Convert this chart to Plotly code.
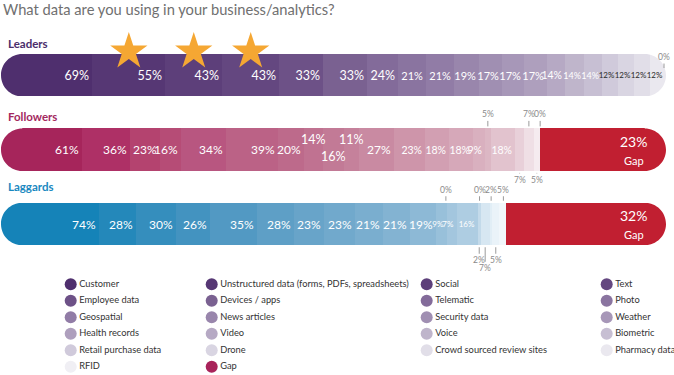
import numpy as np
import plotly.graph_objects as go

# ------------------------------------------------------------------ data
GROUPS = ["Leaders", "Followers", "Laggards"]
CATEGORIES = [
    "Customer", "Unstructured data (forms, PDFs, spreadsheets)", "Social", "Text",
    "Employee data", "Devices / apps", "Telematic", "Photo",
    "Geospatial", "News articles", "Security data", "Weather",
    "Health records", "Video", "Voice", "Biometric",
    "Retail purchase data", "Drone", "Crowd sourced review sites", "Pharmacy data",
    "RFID",
]
LEADERS = [69, 55, 43, 43, 33, 33, 24, 21, 21, 19, 17, 17, 17, 14, 14, 14, 12, 12, 12, 12, 0]
FOLLOWERS = [61, 36, 23, 16, 34, 39, 20, 14, 16, 11, 27, 23, 18, 18, 9, 5, 18, 7, 7, 5, 0]
LAGGARDS = [74, 28, 30, 26, 35, 28, 23, 23, 21, 21, 19, 9, 7, 16, 0, 2, 0, 7, 2, 5, 5]
GAP_NAME = "Gap"
GAP_PCT = [None, 23, 32]
STARRED = ["Unstructured data (forms, PDFs, spreadsheets)", "Social", "Text"]
TITLE = "What data are you using in your business/analytics?"

VALUES = {"Leaders": LEADERS, "Followers": FOLLOWERS, "Laggards": LAGGARDS}

# ------------------------------------------------------------------ style
W, H = 674, 375
FONT = "Lato"
COLORS = {
    "Leaders": ["#4f2f6e", "#563774", "#5d3f7a", "#644780", "#6d5187", "#7a6191", "#836b9a",
                "#8a74a0", "#917ca6", "#9986ac", "#a08fb2", "#a797b8", "#ae9fbd", "#b6a9c4",
                "#bfb5cb", "#c7bfd3", "#d0cadb", "#d9d5e2", "#e1dee8", "#eae8ef", "#f0eff4"],
    "Followers": ["#a6255b", "#ae3066", "#b4436f", "#b64c76", "#b85680", "#bb6286", "#bd6a8b",
                  "#c07291", "#c27a96", "#c5819b", "#c98aa2", "#ce95aa", "#d29fb2", "#d6a8b9",
                  "#d9b0bf", "#dcb7c4", "#e2c3ce", "#e8d0d9", "#efdfe5", "#f5ebef", "#f8f2f5"],
    "Laggards": ["#1583b8", "#2488ba", "#358ebd", "#4393c0", "#5299c3", "#5e9fc6", "#68a4c9",
                 "#71a9cc", "#7aaecf", "#83b3d2", "#8db9d6", "#98c0da", "#a3c6de", "#aecde2",
                 "#b8d3e6", "#c3daea", "#cde1ee", "#d7e7f2", "#e1eef6", "#eaf3f9", "#f1f7fb"],
}
GAP_COLOR = "#c11f31"
GAP_LEGEND_COLOR = "#a8235a"
STAR_COLOR = "#F5A733"
GROUP_TITLE_COLORS = ["#4b2e6b", "#a3285e", "#1a88c0"]
GROUP_TITLE_Y_PX = [44, 116, 187]
FONT_SIZES = {
    "Leaders": [12.5] * 7 + [11] * 6 + [10.5] + [9] * 2 + [8] * 4 + [9],
    "Followers": [12] * 11 + [10.5] * 6 + [9] * 4,
    "Laggards": [12] * 11 + [8] * 3 + [9] * 7,
}
DARK_TEXT = {("Leaders", 16), ("Leaders", 17), ("Leaders", 18), ("Leaders", 19)}
# labels that are not drawn inside their bar segment (offsets in pixels)
SPECIAL = {
    "Leaders": {20: dict(kind="above", ay=-11, dy=-14, dx=-2, standoff=0)},
    "Followers": {
        7: dict(kind="inner", dy=10), 8: dict(kind="inner", dy=-7), 9: dict(kind="inner", dy=10),
        15: dict(kind="above", ay=-14), 17: dict(kind="below", ay=9), 18: dict(kind="above", ay=-14),
        19: dict(kind="below", ay=9), 20: dict(kind="above", ay=-14),
    },
    "Laggards": {
        14: dict(kind="above", ay=-13, dx=-32), 15: dict(kind="below", ay=15),
        16: dict(kind="above", ay=-13, dx=-1), 17: dict(kind="below", ay=23),
        18: dict(kind="above", ay=-13), 19: dict(kind="below", ay=15),
        20: dict(kind="above", ay=-13, dx=1),
    },
}
SMALL_TEXT = "#8a8a8a"
TICK_COLOR = "#9a9a9a"

ROW_TOP_PX, ROW_BOTTOM_PX = 75.3, 224.0
BAR_PX = 42.5
PLOT_X0_PX, PLOT_X1_PX = 1, 666
STAR_LIFT_PX = 23.7
STAR_SIZE = 28

LEG_COL_X = [70.7, 211.7, 426.7, 606.7]
LEG_ROW0_Y, LEG_ROW_STEP = 284.3, 16.5
LEG_TOP_PX = 272

# ------------------------------------------------------------------ geometry
n = len(GROUPS)
rows = [n - 1 - i for i in range(n)]
row_px = (ROW_BOTTOM_PX - ROW_TOP_PX) / (n - 1)
top_px = ROW_TOP_PX - row_px / 2
bot_px = ROW_BOTTOM_PX + row_px / 2
ydom = [1 - bot_px / H, 1 - top_px / H]
xdom = [PLOT_X0_PX / W, PLOT_X1_PX / W]
bar_w = BAR_PX / row_px
half_px = BAR_PX / 2

totals = [sum(VALUES[g]) for g in GROUPS]
full = max(totals)
gaps = [full - t for t in totals]
px_per_unit = (PLOT_X1_PX - PLOT_X0_PX) / full

fig = go.Figure()

for i, cat in enumerate(CATEGORIES):
    texts, sizes, tcols = [], [], []
    for g in GROUPS:
        texts.append("" if i in SPECIAL[g] else f"{VALUES[g][i]}%")
        sizes.append(FONT_SIZES[g][i])
        tcols.append("#2a2a2a" if (g, i) in DARK_TEXT else "white")
    fig.add_trace(go.Bar(
        y=rows, x=[VALUES[g][i] for g in GROUPS], orientation="h", name=cat, width=bar_w,
        marker=dict(color=[COLORS[g][i] for g in GROUPS], line=dict(width=0)),
        text=texts, textposition="inside", insidetextanchor="end", textangle=0,
        constraintext="none", textfont=dict(family=FONT, size=sizes, color=tcols),
        showlegend=False, hovertemplate="%{x}%<extra>" + cat + "</extra>",
    ))

fig.add_trace(go.Bar(
    y=rows, x=gaps, orientation="h", name=GAP_NAME, width=bar_w,
    marker=dict(color=GAP_COLOR, line=dict(width=0)), showlegend=False,
    hoverinfo="skip",
))

# stars over selected leader segments
lv = np.array(LEADERS, dtype=float)
lstart = np.cumsum(lv) - lv
star_x = [lstart[CATEGORIES.index(c)] + lv[CATEGORIES.index(c)] / 2 for c in STARRED]
fig.add_trace(go.Scatter(
    x=star_x, y=[rows[0] + STAR_LIFT_PX / row_px] * len(star_x), mode="markers",
    marker=dict(symbol="star", size=STAR_SIZE, color=STAR_COLOR, line=dict(width=0)),
    cliponaxis=False, showlegend=False, hoverinfo="skip",
))

# legend drawn as marker + text grid
leg_names = CATEGORIES + [GAP_NAME]
leg_cols = COLORS["Leaders"] + [GAP_LEGEND_COLOR]
ncol = len(LEG_COL_X)
fig.add_trace(go.Scatter(
    x=[LEG_COL_X[j % ncol] for j in range(len(leg_names))],
    y=[LEG_ROW0_Y + LEG_ROW_STEP * (j // ncol) for j in range(len(leg_names))],
    mode="markers+text", text=leg_names, textposition="middle right",
    textfont=dict(family=FONT, size=9.3, color="#333333"),
    marker=dict(symbol="circle", size=12, color=leg_cols, line=dict(width=0)),
    xaxis="x2", yaxis="y2", cliponaxis=False, showlegend=False, hoverinfo="skip",
))

annotations = []
for gi, g in enumerate(GROUPS):
    annotations.append(dict(
        x=0, xref="paper", xanchor="left", xshift=6, y=1 - GROUP_TITLE_Y_PX[gi] / H,
        yref="paper", yanchor="middle", text=f"<b>{g}</b>", showarrow=False,
        font=dict(family=FONT, size=11.5, color=GROUP_TITLE_COLORS[gi]),
    ))
    vals = np.array(VALUES[g], dtype=float)
    starts = np.cumsum(vals) - vals
    for i, spec in SPECIAL[g].items():
        xc = starts[i] + vals[i] / 2 + spec.get("dx", 0) / px_per_unit
        txt = f"{VALUES[g][i]}%"
        if spec["kind"] == "inner":
            annotations.append(dict(
                x=xc, y=rows[gi], text=txt, showarrow=False, yshift=spec["dy"],
                font=dict(family=FONT, size=12.5, color="white"),
            ))
        else:
            above = spec["kind"] == "above"
            yedge = rows[gi] + (bar_w / 2 if above else -bar_w / 2)
            annotations.append(dict(
                x=xc, y=yedge, text=txt, showarrow=True, arrowhead=0, arrowwidth=1,
                arrowcolor=TICK_COLOR, ax=0, ay=spec["ay"], standoff=spec.get("standoff", 2),
                yshift=spec.get("dy", 0),
                font=dict(family=FONT, size=8.5, color=SMALL_TEXT),
            ))
    if GAP_PCT[gi] is not None:
        annotations.append(dict(
            x=full, y=rows[gi], xanchor="right", xshift=-17, showarrow=False, align="center",
            text=f"{GAP_PCT[gi]}%<br><span style='font-size:11px'>{GAP_NAME}</span>",
            font=dict(family=FONT, size=14, color="white"),
        ))

# rounded bar ends: white corner masks
k = 0.5523
r = half_px
e = 1.5
left_path = (f"M {-e},{r + e} L {r},{r + e} L {r},{r} C {r - k * r},{r} 0,{k * r} 0,0 "
             f"C 0,{-k * r} {r - k * r},{-r} {r},{-r} L {r},{-r - e} L {-e},{-r - e} Z")
right_path = (f"M {e},{r + e} L {-r},{r + e} L {-r},{r} C {-(r - k * r)},{r} 0,{k * r} 0,0 "
              f"C 0,{-k * r} {-(r - k * r)},{-r} {-r},{-r} L {-r},{-r - e} L {e},{-r - e} Z")
shapes = []
for gi in range(n):
    for anchor, path in ((0, left_path), (full, right_path)):
        shapes.append(dict(
            type="path", xref="x", yref="y", xsizemode="pixel", ysizemode="pixel",
            xanchor=anchor, yanchor=rows[gi], path=path, fillcolor="white",
            line=dict(width=0), layer="above",
        ))

fig.update_layout(
    width=W, height=H, barmode="stack", bargap=0,
    margin=dict(l=0, r=0, t=0, b=0, pad=0),
    paper_bgcolor="white", plot_bgcolor="rgba(0,0,0,0)",
    font=dict(family=FONT, color="#333333"),
    title=dict(text=TITLE, x=3 / W, xanchor="left", xref="container",
               y=1 - 10 / H, yanchor="middle", yref="container",
               font=dict(family=FONT, size=14.7, color="#707070")),
    xaxis=dict(domain=xdom, range=[0, full], visible=False, fixedrange=True),
    yaxis=dict(domain=ydom, range=[-0.5, n - 0.5], visible=False, fixedrange=True),
    xaxis2=dict(domain=[0, 1], range=[0, W], visible=False, anchor="y2", fixedrange=True),
    yaxis2=dict(domain=[0, (H - LEG_TOP_PX) / H], range=[H, LEG_TOP_PX], visible=False,
                anchor="x2", fixedrange=True),
    annotations=annotations, shapes=shapes, showlegend=False,
)

fig.write_html(
    "out.html",
    config={"displayModeBar": False},
    post_script="document.body.style.margin='0';document.body.style.overflow='hidden';",
)
